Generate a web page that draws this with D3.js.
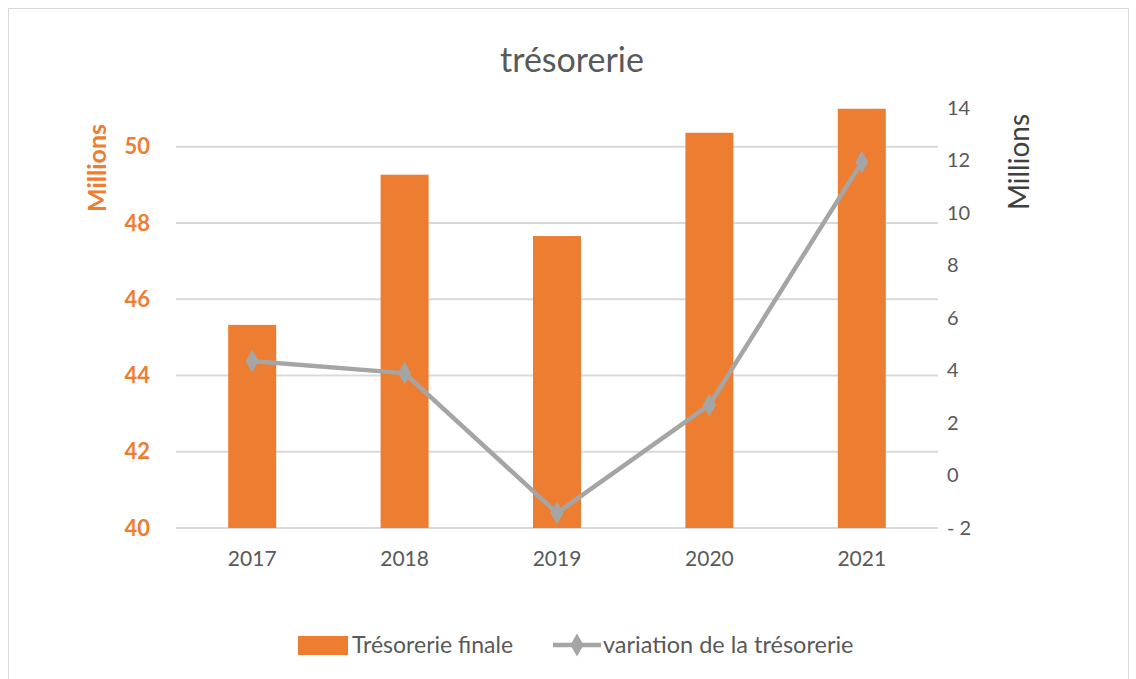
<!DOCTYPE html>
<html lang="fr">
<head>
<meta charset="utf-8">
<title>trésorerie</title>
<script src="https://d3js.org/d3.v7.min.js"></script>
<style>
  body { margin: 0; background: #fff; }
  text { font-family: Lato, "Open Sans", sans-serif; }
</style>
</head>
<body>
<script>
// data (millions)
var years = ["2017", "2018", "2019", "2020", "2021"];
var tresorerieFinale = [45.33, 49.27, 47.66, 50.37, 51.0];
var variation = [4.36, 3.9, -1.43, 2.69, 11.94];
var leftTicks = [40, 42, 44, 46, 48, 50];
var rightTicks = [-2, 0, 2, 4, 6, 8, 10, 12, 14];

var w = 1136, h = 679;
var orange = "#ED7D31", grey = "#A5A5A5", txt = "#595959";

var svg = d3.select("body").append("svg")
  .attr("width", w)
  .attr("height", h);

// chart frame
svg.append("rect")
  .attr("x", 8.5).attr("y", 8.5)
  .attr("width", 1120).attr("height", 680)
  .attr("fill", "#fff")
  .attr("stroke", "#d9d9d9");

var x = d3.scaleBand()
  .domain(years)
  .range([176, 938])
  .paddingInner(0.685)
  .paddingOuter(0.3425);

var yL = d3.scaleLinear().domain([40, 51.02]).range([528, 108]);
var yR = d3.scaleLinear().domain([-2, 14]).range([528, 108]);

// gridlines
svg.append("g")
  .selectAll("line")
  .data(leftTicks)
  .enter().append("line")
  .attr("x1", 176).attr("x2", 938)
  .attr("y1", function(d) { return yL(d); })
  .attr("y2", function(d) { return yL(d); })
  .attr("stroke", "#d9d9d9")
  .attr("stroke-width", 2);

// bars
svg.append("g")
  .selectAll("rect")
  .data(tresorerieFinale)
  .enter().append("rect")
  .attr("x", function(d, i) { return x(years[i]); })
  .attr("y", function(d) { return yL(d); })
  .attr("width", x.bandwidth())
  .attr("height", function(d) { return yL(40) - yL(d); })
  .attr("fill", orange);

// left axis (orange, bold)
var axL = svg.append("g")
  .attr("transform", "translate(176,0)")
  .call(d3.axisLeft(yL).tickValues(leftTicks).tickSize(0).tickPadding(26));
axL.select(".domain").remove();
axL.selectAll("text")
  .attr("fill", orange)
  .attr("font-size", 22)
  .attr("font-weight", "bold")
  .style("font-family", "Lato, sans-serif");

// right axis
var axR = svg.append("g")
  .attr("transform", "translate(938,0)")
  .call(d3.axisRight(yR).tickValues(rightTicks).tickSize(0).tickPadding(9)
    .tickFormat(function(d) { return d < 0 ? "- " + Math.abs(d) : d; }));
axR.select(".domain").remove();
axR.selectAll("text")
  .attr("fill", txt)
  .attr("font-size", 20);

// x axis
var axX = svg.append("g")
  .attr("transform", "translate(0,528)")
  .call(d3.axisBottom(x).tickSize(0).tickPadding(23));
axX.select(".domain").remove();
axX.selectAll("text")
  .attr("fill", txt)
  .attr("font-size", 21);

// line series
var line = d3.line()
  .x(function(d, i) { return x(years[i]) + x.bandwidth() / 2; })
  .y(function(d) { return yR(d); });

svg.append("path")
  .datum(variation)
  .attr("d", line)
  .attr("fill", "none")
  .attr("stroke", grey)
  .attr("stroke-width", 4.5)
  .attr("stroke-linejoin", "round");

var diamond = d3.symbol().type(d3.symbolDiamond).size(150);
svg.append("g")
  .selectAll("path")
  .data(variation)
  .enter().append("path")
  .attr("d", diamond)
  .attr("transform", function(d, i) {
    return "translate(" + (x(years[i]) + x.bandwidth() / 2) + "," + yR(d) + ")";
  })
  .attr("fill", grey);

// title
svg.append("text")
  .attr("x", 572).attr("y", 72)
  .attr("text-anchor", "middle")
  .attr("fill", txt)
  .attr("font-size", 34)
  .text("trésorerie");

// axis titles
svg.append("text")
  .attr("transform", "translate(106,168) rotate(-90)")
  .attr("text-anchor", "middle")
  .attr("fill", orange)
  .attr("font-size", 25)
  .attr("font-weight", "bold")
  .text("Millions");

svg.append("text")
  .attr("transform", "translate(1029,162) rotate(-90)")
  .attr("text-anchor", "middle")
  .attr("fill", "#404040")
  .attr("font-size", 28)
  .text("Millions");

// legend
var lg = svg.append("g");
lg.append("rect")
  .attr("x", 298).attr("y", 636)
  .attr("width", 50).attr("height", 19)
  .attr("fill", orange);
lg.append("text")
  .attr("x", 352).attr("y", 653)
  .attr("fill", txt)
  .attr("font-size", 23)
  .text("Trésorerie finale");
lg.append("line")
  .attr("x1", 553).attr("x2", 601)
  .attr("y1", 645).attr("y2", 645)
  .attr("stroke", grey)
  .attr("stroke-width", 4.5);
lg.append("path")
  .attr("d", diamond)
  .attr("transform", "translate(577,645)")
  .attr("fill", grey);
lg.append("text")
  .attr("x", 603).attr("y", 653)
  .attr("fill", txt)
  .attr("font-size", 23.5)
  .text("variation de la trésorerie");
</script>
</body>
</html>
